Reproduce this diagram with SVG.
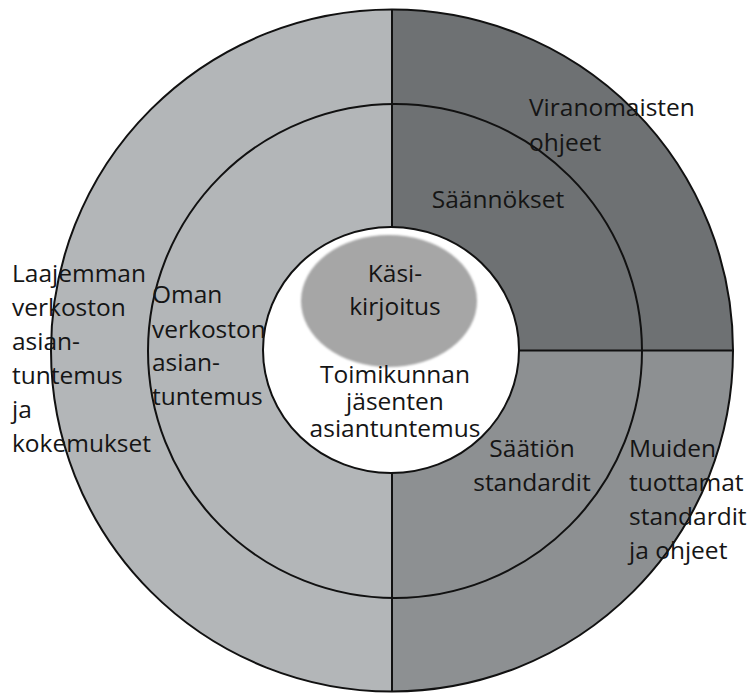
<svg xmlns="http://www.w3.org/2000/svg" width="751" height="694" viewBox="0 0 751 694">
<style>
.t{font-family:"Open Sans","Noto Sans","Liberation Sans",sans-serif;font-size:24.5px;fill:#151515}
.c{text-anchor:middle}
.ln{stroke:#111;stroke-width:2;fill:none}
</style>
<defs>
<filter id="soft" x="-10%" y="-10%" width="120%" height="120%"><feGaussianBlur stdDeviation="1.2"/></filter>
</defs>
<rect width="751" height="694" fill="#fff"/>
<g id="sectors">
<path id="left" d="M392 9.5 A341 341 0 0 0 392 691.5 Z" fill="#b3b6b8"/>
<path id="topright" d="M392 350.5 L392 9.5 A341 341 0 0 1 733 350.5 Z" fill="#6e7173"/>
<path id="bottomright" d="M392 350.5 L733 350.5 A341 341 0 0 1 392 691.5 Z" fill="#8d9092"/>
</g>
<g id="connectors">
<circle class="ln" cx="392" cy="350.5" r="341"/>
<circle class="ln" cx="395" cy="351" r="247"/>
<line class="ln" x1="392" y1="9" x2="392" y2="230"/>
<line class="ln" x1="392" y1="470" x2="392" y2="692"/>
<line class="ln" x1="515" y1="350.5" x2="734" y2="350.5"/>
</g>
<g id="core">
<ellipse cx="391" cy="350" rx="128" ry="123" fill="#fff" stroke="#111" stroke-width="2"/>
<ellipse cx="389" cy="301" rx="88" ry="66" fill="#a6a6a6" filter="url(#soft)"/>
</g>
<g id="n-kasikirjoitus">
<text class="t c" x="395" y="282">Käsi-</text>
<text class="t c" x="395" y="315">kirjoitus</text>
</g>
<g id="n-toimikunta">
<text class="t c" x="395" y="383">Toimikunnan</text>
<text class="t c" x="395" y="410">jäsenten</text>
<text class="t c" x="395" y="437">asiantuntemus</text>
</g>
<g id="n-saannokset">
<text class="t c" x="498" y="208">Säännökset</text>
</g>
<g id="n-viranomaiset">
<text class="t" x="529" y="116">Viranomaisten</text>
<text class="t" x="529" y="151">ohjeet</text>
</g>
<g id="n-saatio">
<text class="t c" x="532" y="457">Säätiön</text>
<text class="t c" x="532" y="491">standardit</text>
</g>
<g id="n-muiden">
<text class="t" x="629" y="457">Muiden</text>
<text class="t" x="629" y="491">tuottamat</text>
<text class="t" x="629" y="525">standardit</text>
<text class="t" x="629" y="559">ja ohjeet</text>
</g>
<g id="n-oman">
<text class="t" x="152" y="303">Oman</text>
<text class="t" x="152" y="338">verkoston</text>
<text class="t" x="152" y="371">asian-</text>
<text class="t" x="152" y="405">tuntemus</text>
</g>
<g id="n-laajemman">
<text class="t" x="12" y="282">Laajemman</text>
<text class="t" x="12" y="316">verkoston</text>
<text class="t" x="12" y="350">asian-</text>
<text class="t" x="12" y="384">tuntemus</text>
<text class="t" x="12" y="418">ja</text>
<text class="t" x="12" y="452">kokemukset</text>
</g>
</svg>
